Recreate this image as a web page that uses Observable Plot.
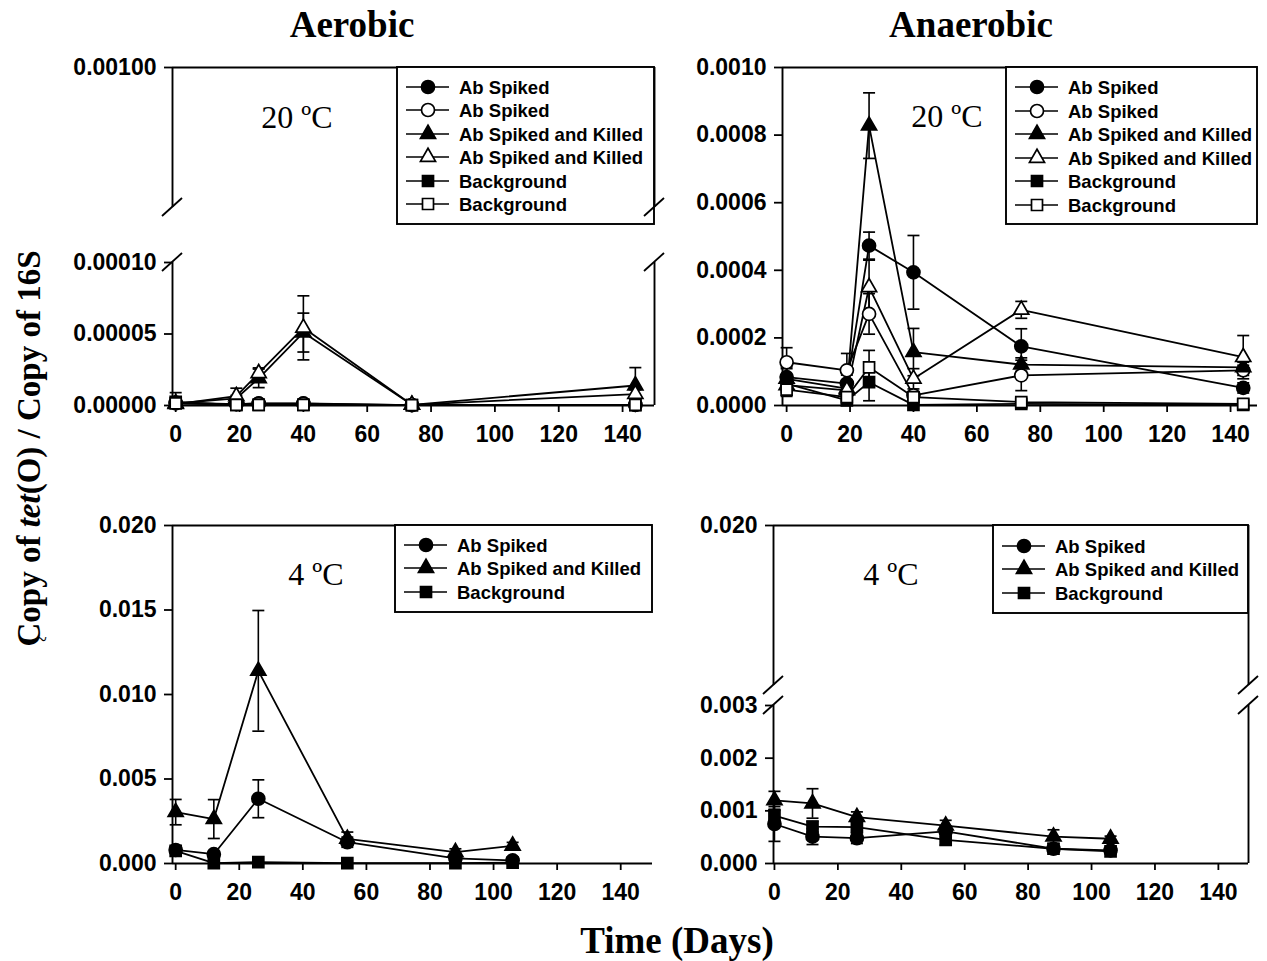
<!DOCTYPE html>
<html><head><meta charset="utf-8">
<script src="https://cdn.jsdelivr.net/npm/d3@7"></script>
<script src="https://cdn.jsdelivr.net/npm/@observablehq/plot@0.6"></script>
<style>
html,body{margin:0;padding:0;background:#fff;}
#root{position:relative;width:1267px;height:961px;overflow:hidden;background:#fff;}
.ttl{position:absolute;font-family:"Liberation Serif","Times New Roman",serif;font-weight:bold;color:#000;white-space:nowrap;text-align:center;}
#root svg [aria-label$="tick"] path{stroke-width:1.8px;}
</style></head><body><div id="root"></div>
<script>
// ---------------- data ----------------
const daysTwenty = [0, 19, 26, 40, 74, 144];
const daysFour = [0, 12, 26, 54, 88, 106];
const xTickValues = [0, 20, 40, 60, 80, 100, 120, 140];
const legendLabels20 = ["Ab Spiked", "Ab Spiked", "Ab Spiked and Killed", "Ab Spiked and Killed", "Background", "Background"];
const legendLabels4 = ["Ab Spiked", "Ab Spiked and Killed", "Background"];
const panelTemps = ["20 ºC", "20 ºC", "4 ºC", "4 ºC"];

// Aerobic, 20 ºC
const aer20SpikedFilled = [2.0e-6, 1.0e-6, 1.5e-6, 1.5e-6, 0.3e-6, 0.5e-6];
const aer20SpikedFilledErr = [7e-6, 0, 0, 0, 0, 0];
const aer20SpikedOpen = [1.5e-6, 1.0e-6, 1.3e-6, 1.3e-6, 0.3e-6, 0.5e-6];
const aer20SpikedOpenErr = [0, 0, 0, 0, 0, 0];
const aer20KilledFilled = [1.5e-6, 5.0e-6, 19e-6, 51e-6, 0.5e-6, 14e-6];
const aer20KilledFilledErr = [0.5e-6, 2e-6, 6.5e-6, 13.6e-6, 0, 12.5e-6];
const aer20KilledOpen = [1.0e-6, 6.5e-6, 22.6e-6, 54.3e-6, 0.5e-6, 8e-6];
const aer20KilledOpenErr = [0.5e-6, 5.6e-6, 3.7e-6, 22.4e-6, 0, 3e-6];
const aer20BackFilled = [2.5e-6, 0.5e-6, 0.5e-6, 0.5e-6, 0.3e-6, 0.3e-6];
const aer20BackFilledErr = [0, 0, 0, 0, 0, 0];
const aer20BackOpen = [1.5e-6, 0.5e-6, 0.5e-6, 0.5e-6, 0.3e-6, 0.5e-6];
const aer20BackOpenErr = [0, 0, 0, 0, 0, 0];

// Anaerobic, 20 ºC
const ana20SpikedFilled = [0.84e-4, 0.65e-4, 4.73e-4, 3.94e-4, 1.75e-4, 0.52e-4];
const ana20SpikedFilledErr = [0.3e-4, 0.3e-4, 0.4e-4, 1.09e-4, 0.52e-4, 0.15e-4];
const ana20SpikedOpen = [1.28e-4, 1.04e-4, 2.71e-4, 0.30e-4, 0.89e-4, 1.04e-4];
const ana20SpikedOpenErr = [0.43e-4, 0.5e-4, 0.6e-4, 0.1e-4, 0.45e-4, 0.15e-4];
const ana20KilledFilled = [0.79e-4, 0.50e-4, 8.28e-4, 1.58e-4, 1.21e-4, 1.13e-4];
const ana20KilledFilledErr = [0.3e-4, 0.4e-4, 0.97e-4, 0.7e-4, 0.2e-4, 0.15e-4];
const ana20KilledOpen = [0.60e-4, 0.45e-4, 3.50e-4, 0.79e-4, 2.83e-4, 1.43e-4];
const ana20KilledOpenErr = [0.2e-4, 0.3e-4, 0.8e-4, 0.3e-4, 0.25e-4, 0.64e-4];
const ana20BackFilled = [0.65e-4, 0.15e-4, 0.69e-4, 0.02e-4, 0.05e-4, 0.02e-4];
const ana20BackFilledErr = [0.2e-4, 0.1e-4, 0.55e-4, 0, 0, 0];
const ana20BackOpen = [0.47e-4, 0.25e-4, 1.13e-4, 0.25e-4, 0.10e-4, 0.05e-4];
const ana20BackOpenErr = [0.2e-4, 0.1e-4, 0.5e-4, 0.05e-4, 0.05e-4, 0];

// Aerobic, 4 ºC
const aer4Spiked = [0.80e-3, 0.55e-3, 3.83e-3, 1.26e-3, 0.30e-3, 0.18e-3];
const aer4SpikedErr = [0.2e-3, 0.1e-3, 1.12e-3, 0.3e-3, 0.1e-3, 0.05e-3];
const aer4Killed = [3.04e-3, 2.63e-3, 11.4e-3, 1.46e-3, 0.67e-3, 1.05e-3];
const aer4KilledErr = [0.75e-3, 1.15e-3, 3.57e-3, 0.4e-3, 0.2e-3, 0.2e-3];
const aer4Back = [0.75e-3, 0.02e-3, 0.08e-3, 0.02e-3, 0.02e-3, 0.05e-3];
const aer4BackErr = [0.1e-3, 0, 0, 0, 0, 0];

// Anaerobic, 4 ºC
const ana4Spiked = [0.75e-3, 0.51e-3, 0.48e-3, 0.61e-3, 0.28e-3, 0.25e-3];
const ana4SpikedErr = [0.33e-3, 0.15e-3, 0.1e-3, 0.1e-3, 0.05e-3, 0.05e-3];
const ana4Killed = [1.20e-3, 1.14e-3, 0.88e-3, 0.72e-3, 0.51e-3, 0.47e-3];
const ana4KilledErr = [0.17e-3, 0.28e-3, 0.1e-3, 0.1e-3, 0.13e-3, 0.05e-3];
const ana4Back = [0.91e-3, 0.70e-3, 0.69e-3, 0.45e-3, 0.28e-3, 0.23e-3];
const ana4BackErr = [0.1e-3, 0.1e-3, 0.1e-3, 0.1e-3, 0.05e-3, 0.05e-3];

// ---------------- styling ----------------
const SYM = {
  circle: {symbol: "circle", r: 6.5},
  triangle: {symbol: "triangle", r: 5.6},
  square: {symbol: "square", r: 6.2}
};
const capSymbol = {draw(ctx, size) { const h = Math.sqrt(size / Math.PI); ctx.moveTo(-h, 0); ctx.lineTo(h, 0); }};

function mk(days, vals, errs, shape, filled) {
  return {shape, filled, rows: days.map((d, i) => ({day: d, v: vals[i], e: errs[i]}))};
}

const aer20Series = [
  mk(daysTwenty, aer20SpikedFilled, aer20SpikedFilledErr, "circle", true),
  mk(daysTwenty, aer20SpikedOpen, aer20SpikedOpenErr, "circle", false),
  mk(daysTwenty, aer20KilledFilled, aer20KilledFilledErr, "triangle", true),
  mk(daysTwenty, aer20KilledOpen, aer20KilledOpenErr, "triangle", false),
  mk(daysTwenty, aer20BackFilled, aer20BackFilledErr, "square", true),
  mk(daysTwenty, aer20BackOpen, aer20BackOpenErr, "square", false)
];
const ana20Series = [
  mk(daysTwenty, ana20SpikedFilled, ana20SpikedFilledErr, "circle", true),
  mk(daysTwenty, ana20SpikedOpen, ana20SpikedOpenErr, "circle", false),
  mk(daysTwenty, ana20KilledFilled, ana20KilledFilledErr, "triangle", true),
  mk(daysTwenty, ana20KilledOpen, ana20KilledOpenErr, "triangle", false),
  mk(daysTwenty, ana20BackFilled, ana20BackFilledErr, "square", true),
  mk(daysTwenty, ana20BackOpen, ana20BackOpenErr, "square", false)
];
const aer4Series = [
  mk(daysFour, aer4Spiked, aer4SpikedErr, "circle", true),
  mk(daysFour, aer4Killed, aer4KilledErr, "triangle", true),
  mk(daysFour, aer4Back, aer4BackErr, "square", true)
];
const ana4Series = [
  mk(daysFour, ana4Spiked, ana4SpikedErr, "circle", true),
  mk(daysFour, ana4Killed, ana4KilledErr, "triangle", true),
  mk(daysFour, ana4Back, ana4BackErr, "square", true)
];

const fmt = n => (d => d.toFixed(n));

// segments (frame pixel boxes)
const segments = [
  {x0: 172, x1: 654, y0: 67, y1: 207, xDomain: [-1, 150], yDomain: [0.0002, 0.001], yTicks: [0.001], yFmt: fmt(5), xAxis: false, top: true, right: true, series: []},
  {x0: 172, x1: 654, y0: 262, y1: 405, xDomain: [-1, 150], yDomain: [0, 0.0001], yTicks: [0, 0.00005, 0.0001], yFmt: fmt(5), xAxis: true, top: false, right: true, series: aer20Series},
  {x0: 782, x1: 1257, y0: 67, y1: 405, xDomain: [-1.3, 148.5], yDomain: [0, 0.001], yTicks: [0, 0.0002, 0.0004, 0.0006, 0.0008, 0.001], yFmt: fmt(4), xAxis: true, top: true, right: false, series: ana20Series},
  {x0: 172, x1: 652, y0: 525, y1: 863, xDomain: [-1, 150], yDomain: [0, 0.02], yTicks: [0, 0.005, 0.01, 0.015, 0.02], yFmt: fmt(3), xAxis: true, top: true, right: false, series: aer4Series},
  {x0: 773, x1: 1248, y0: 525, y1: 685, xDomain: [-0.3, 149.5], yDomain: [0.005, 0.02], yTicks: [0.02], yFmt: fmt(3), xAxis: false, top: true, right: true, series: []},
  {x0: 773, x1: 1248, y0: 705, y1: 863, xDomain: [-0.3, 149.5], yDomain: [0, 0.003], yTicks: [0, 0.001, 0.002, 0.003], yFmt: fmt(3), xAxis: true, top: false, right: true, series: ana4Series}
];

const root = document.getElementById("root");

function drawSegment(p) {
  const mL = 130, mR = 24, mT = 14, mB = p.xAxis ? 60 : 14;
  const W = p.x1 - p.x0, H = p.y1 - p.y0;
  const line = {stroke: "black", strokeWidth: 1.9};
  const marks = [];
  marks.push(Plot.ruleX([p.xDomain[0]], line));
  if (p.xAxis) marks.push(Plot.ruleY([p.yDomain[0]], line));
  if (p.top) marks.push(Plot.ruleY([p.yDomain[1]], line));
  if (p.right) marks.push(Plot.ruleX([p.xDomain[1]], line));
  const lo = p.yDomain[0];
  for (const s of p.series) {
    marks.push(Plot.line(s.rows, {x: "day", y: "v", stroke: "black", strokeWidth: 1.8}));
  }
  for (const s of p.series) {
    const er = s.rows.filter(d => d.e > 0);
    marks.push(Plot.ruleX(er, {x: "day", y1: d => Math.max(lo, d.v - d.e), y2: d => d.v + d.e, stroke: "black", strokeWidth: 1.6}));
    marks.push(Plot.dot(er, {x: "day", y: d => d.v + d.e, symbol: capSymbol, r: 6, fill: "none", stroke: "black", strokeWidth: 1.7}));
    marks.push(Plot.dot(er.filter(d => d.v - d.e > lo), {x: "day", y: d => d.v - d.e, symbol: capSymbol, r: 6, fill: "none", stroke: "black", strokeWidth: 1.7}));
  }
  for (const s of p.series) {
    marks.push(Plot.dot(s.rows, {x: "day", y: "v", symbol: SYM[s.shape].symbol, r: SYM[s.shape].r, fill: s.filled ? "black" : "white", stroke: "black", strokeWidth: 1.7}));
  }
  const svg = Plot.plot({
    width: W + mL + mR, height: H + mT + mB,
    marginLeft: mL, marginRight: mR, marginTop: mT, marginBottom: mB,
    x: {domain: p.xDomain, ticks: xTickValues, tickFormat: d3.format("d"), tickSize: 7, tickPadding: 13, label: null, axis: p.xAxis ? "bottom" : null},
    y: {domain: p.yDomain, ticks: p.yTicks, tickFormat: p.yFmt, tickSize: 8, tickPadding: 8, label: null},
    style: {fontFamily: '"Liberation Sans", Arial, Helvetica, sans-serif', fontSize: "23px", fontWeight: "bold", background: "transparent", overflow: "visible", color: "black"},
    marks
  });
  svg.style.position = "absolute";
  svg.style.left = (p.x0 - mL) + "px";
  svg.style.top = (p.y0 - mT) + "px";
  svg.style.maxWidth = "none";
  root.appendChild(svg);
}
segments.forEach(drawSegment);

// ---------------- overlay: legends, temperatures, break marks ----------------
const ov = d3.select(root).append("svg")
  .attr("width", 1267).attr("height", 961)
  .style("position", "absolute").style("left", "0px").style("top", "0px");

function legend(box, labels, series, rowYs) {
  const g = ov.append("g");
  g.append("rect").attr("x", box.x).attr("y", box.y).attr("width", box.w).attr("height", box.h)
    .attr("fill", "white").attr("stroke", "black").attr("stroke-width", 1.9);
  labels.forEach((lab, i) => {
    const y = rowYs[i], s = series[i];
    g.append("line").attr("x1", box.x + 9).attr("x2", box.x + 52).attr("y1", y).attr("y2", y)
      .attr("stroke", "black").attr("stroke-width", 1.7);
    const r = SYM[s.shape].r;
    const type = s.shape === "circle" ? d3.symbolCircle : s.shape === "triangle" ? d3.symbolTriangle : d3.symbolSquare;
    g.append("path").attr("d", d3.symbol(type, Math.PI * r * r)())
      .attr("transform", `translate(${box.x + 31},${y})`)
      .attr("fill", s.filled ? "black" : "white").attr("stroke", "black").attr("stroke-width", 1.7);
    g.append("text").attr("x", box.x + 62).attr("y", y).attr("dy", "0.36em")
      .attr("font-family", '"Liberation Sans", Arial, Helvetica, sans-serif')
      .attr("font-weight", "bold").attr("font-size", 18.5).text(lab);
  });
}
legend({x: 397, y: 67, w: 257, h: 157}, legendLabels20, aer20Series, [87, 110, 134, 157, 181, 204]);
legend({x: 1006, y: 67, w: 251, h: 157}, legendLabels20, ana20Series, [87, 111, 134, 158, 181, 205]);
legend({x: 395, y: 525, w: 257, h: 87}, legendLabels4, aer4Series, [545, 568, 592]);
legend({x: 993, y: 525, w: 255, h: 88}, legendLabels4, ana4Series, [546, 569, 593]);

const tempPos = [[297, 128], [947, 127], [316, 585], [891, 585]];
panelTemps.forEach((t, i) => {
  ov.append("text").attr("x", tempPos[i][0]).attr("y", tempPos[i][1]).attr("text-anchor", "middle")
    .attr("font-family", '"Liberation Serif", "Times New Roman", serif').attr("font-size", 32).text(t);
});

// break marks
const breaks = [[172, 207], [172, 262], [654, 207], [654, 262], [773, 685], [773, 705], [1248, 685], [1248, 705]];
breaks.forEach(([x, y]) => {
  ov.append("line").attr("x1", x - 10).attr("y1", y + 9).attr("x2", x + 10).attr("y2", y - 9)
    .attr("stroke", "black").attr("stroke-width", 1.8);
});

// ---------------- titles ----------------
function addTitle(html, cx, cy, size, rotate) {
  const d = document.createElement("div");
  d.className = "ttl";
  d.innerHTML = html;
  const w = 700;
  d.style.width = w + "px";
  d.style.fontSize = size + "px";
  d.style.lineHeight = (size + 6) + "px";
  d.style.left = (cx - w / 2) + "px";
  d.style.top = (cy - (size + 6) / 2) + "px";
  if (rotate) d.style.transform = "rotate(-90deg)";
  root.appendChild(d);
}
addTitle("Aerobic", 352, 24, 37, false);
addTitle("Anaerobic", 971, 24, 37, false);
addTitle("Time (Days)", 677, 940, 37, false);
addTitle("Copy of <i>tet</i>(O) / Copy of 16S", 29, 448, 33, true);
const tilde = document.createElement("div");
tilde.className = "ttl";
tilde.style.cssText += "left:36px;top:628px;font-size:20px;font-weight:normal;";
tilde.textContent = "~";
root.appendChild(tilde);
</script>
</body></html>
